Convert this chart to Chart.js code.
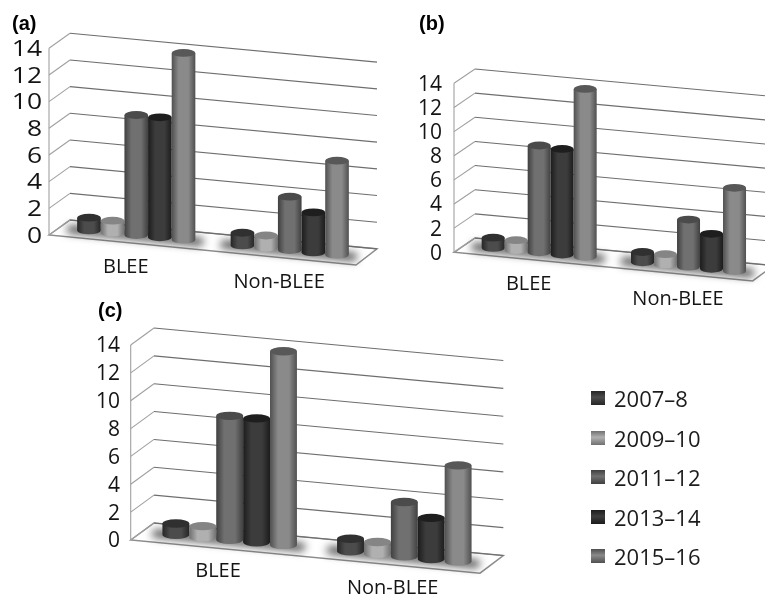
<!DOCTYPE html>
<html>
<head>
<meta charset="utf-8">
<title>BLEE and non-BLEE by period</title>
<script src="https://cdn.jsdelivr.net/npm/chart.js@4"></script>
<style>
    html, body { margin: 0; padding: 0; background: #fff; }
    body { width: 765px; height: 598px; position: relative; overflow: hidden; }
    canvas { position: absolute; left: 0; top: 0; filter: blur(0.4px); }
    .key { position: absolute; left: 591px; height: 30px; font: 22px/30px "Open Sans"; color: #1c1c1c; filter: blur(0.3px); }
    .key i { position: absolute; left: 0; top: 8px; width: 14px; height: 14px; }
    .key span { position: absolute; left: 23px; white-space: nowrap; }
</style>
</head>
<body>
<canvas id="chartA" width="765" height="598"></canvas>
<canvas id="chartB" width="765" height="598"></canvas>
<canvas id="chartC" width="765" height="598"></canvas>

<script>
var categories = ['BLEE', 'Non-BLEE'];
var years = ['2007\u20138', '2009\u201310', '2011\u201312', '2013\u201314', '2015\u201316'];
var yTicks = [0, 2, 4, 6, 8, 10, 12, 14];

// values per period
var bleeA = [0.95, 0.9, 9.0, 9.0, 14.0];
var nonA = [0.95, 0.92, 4.0, 3.0, 7.05];
var bleeB = [0.85, 0.82, 8.85, 8.75, 13.9];
var nonB = [0.85, 0.85, 3.9, 2.9, 6.9];
var bleeC = [0.8, 0.8, 8.9, 8.9, 13.9];
var nonC = [0.9, 0.85, 3.9, 2.95, 6.9];

// edge, centre, cap
var shades = [
    ['#262626', '#4c4c4c', '#303030'],
    ['#707070', '#b0b0b0', '#858585'],
    ['#404040', '#707070', '#4b4b4b'],
    ['#1c1c1c', '#3c3c3c', '#1e1e1e'],
    ['#505050', '#8a8a8a', '#585858']
];

var panels = [
    { canvas: 'chartA', title: '(a)', titleX: 12, titleY: 24, blee: bleeA, non: nonA,
      x0: 49, x1: 356, yTop: 48.3, y0: 235, dx: 21, dy: 15, slope: 0.098, backSlope: 0.094,
      tickRight: 42, tickSize: 22, tickStretch: 1.2, labelOff: 24.5, ry: 3.9 },
    { canvas: 'chartB', title: '(b)', titleX: 419, titleY: 24, blee: bleeB, non: nonB,
      x0: 454, x1: 752.7, yTop: 83.3, y0: 252.3, dx: 21, dy: 14.3, slope: 0.096, backSlope: 0.092,
      tickRight: 442, tickSize: 21, tickStretch: 1, labelOff: 25, ry: 3.9 },
    { canvas: 'chartC', title: '(c)', titleX: 98, titleY: 311, blee: bleeC, non: nonC,
      x0: 130.7, x1: 480, yTop: 345, y0: 540, dx: 23.3, dy: 17, slope: 0.095, backSlope: 0.093,
      tickRight: 120, tickSize: 21, tickStretch: 1, labelOff: 23.5, ry: 4.2 }
];

function drawWalls(ctx, chart, p) {
    var yScale = chart.scales.y;
    var w = p.x1 - p.x0;
    var bx = p.x0 + p.dx;

    // floor
    var fy = p.y0 + p.slope * w;
    ctx.beginPath();
    ctx.moveTo(p.x0, p.y0);
    ctx.lineTo(bx, p.y0 - p.dy);
    ctx.lineTo(bx + w, p.y0 - p.dy + p.backSlope * w);
    ctx.lineTo(p.x1, fy);
    ctx.closePath();
    ctx.fillStyle = '#ffffff';
    ctx.fill();
    ctx.strokeStyle = '#8c8c8c';
    ctx.lineWidth = 1.5;
    ctx.stroke();

    // gridlines on the side and back wall
    yScale.ticks.forEach(function (t) {
        var y = yScale.getPixelForValue(t.value);
        ctx.beginPath();
        ctx.moveTo(p.x0, y);
        ctx.lineTo(bx, y - p.dy);
        ctx.strokeStyle = '#a0a0a0';
        ctx.lineWidth = 1.1;
        ctx.stroke();
        ctx.beginPath();
        ctx.moveTo(bx, y - p.dy);
        ctx.lineTo(bx + w, y - p.dy + p.backSlope * w);
        ctx.strokeStyle = '#6e6e6e';
        ctx.stroke();
    });

    ctx.beginPath();
    ctx.moveTo(p.x0, yScale.getPixelForValue(14));
    ctx.lineTo(p.x0, p.y0);
    ctx.strokeStyle = '#a0a0a0';
    ctx.stroke();
}

function groundY(p, frontX) {
    return p.y0 + p.slope * (frontX - p.x0) - p.dy / 2;
}

function drawShadows(ctx, chart, p) {
    var first = chart.getDatasetMeta(0).data;
    var last = chart.getDatasetMeta(years.length - 1).data;
    ctx.save();
    ctx.filter = 'blur(4px)';
    ctx.fillStyle = 'rgba(50,50,50,0.95)';
    categories.forEach(function (c, i) {
        var l = first[i].x - first[i].width / 2 - 8;
        var r = last[i].x + last[i].width / 2 + 9;
        ctx.beginPath();
        ctx.moveTo(l + p.dx / 2, groundY(p, l) - 3);
        ctx.lineTo(r + p.dx / 2, groundY(p, r) - 3);
        ctx.lineTo(r + p.dx / 2 - 3, groundY(p, r) + 4);
        ctx.lineTo(l + p.dx / 2 - 3, groundY(p, l) + 4);
        ctx.closePath();
        ctx.fill();
    });
    ctx.restore();
}

function drawBar(ctx, el, p, shade) {
    var cx = el.x + p.dx / 2;
    var rx = el.width / 2;
    var base = groundY(p, el.x);
    var top = base - (el.base - el.y);
    var g = ctx.createLinearGradient(cx - rx, 0, cx + rx, 0);
    g.addColorStop(0, shade[0]);
    g.addColorStop(0.3, shade[1]);
    g.addColorStop(0.7, shade[1]);
    g.addColorStop(1, shade[0]);
    ctx.beginPath();
    ctx.moveTo(cx - rx, top);
    ctx.lineTo(cx - rx, base);
    ctx.ellipse(cx, base, rx, p.ry, 0, Math.PI, 0, true);
    ctx.lineTo(cx + rx, top);
    ctx.closePath();
    ctx.fillStyle = g;
    ctx.fill();
    ctx.beginPath();
    ctx.ellipse(cx, top, rx, p.ry, 0, 0, Math.PI * 2);
    ctx.fillStyle = shade[2];
    ctx.fill();
}

function drawText(ctx, chart, p) {
    var yScale = chart.scales.y;
    var xScale = chart.scales.x;

    ctx.fillStyle = '#141414';
    ctx.textBaseline = 'middle';
    ctx.font = p.tickSize + 'px "Open Sans"';
    ctx.textAlign = 'right';
    yScale.ticks.forEach(function (t) {
        ctx.save();
        ctx.translate(p.tickRight, yScale.getPixelForValue(t.value) + 1.5);
        ctx.scale(p.tickStretch, 1);
        ctx.fillText(t.label, 0, 0);
        ctx.restore();
    });

    ctx.font = '20px "Open Sans"';
    ctx.textAlign = 'center';
    categories.forEach(function (c, i) {
        var x = xScale.getPixelForTick(i);
        ctx.fillText(c, x, p.y0 + p.slope * (x - p.x0) + p.labelOff);
    });

    ctx.fillStyle = '#000';
    ctx.textAlign = 'left';
    ctx.font = 'bold 20px "Liberation Sans"';
    ctx.fillText(p.title, p.titleX, p.titleY);
}

var barScene = {
    id: 'barScene',
    beforeDatasetsDraw: function (chart, args, opts) {
        var ctx = chart.ctx;
        var p = opts.panel;
        ctx.save();
        drawWalls(ctx, chart, p);
        drawShadows(ctx, chart, p);
        categories.forEach(function (c, i) {
            years.forEach(function (y, s) {
                drawBar(ctx, chart.getDatasetMeta(s).data[i], p, shades[s]);
            });
        });
        drawText(ctx, chart, p);
        ctx.restore();
        return false;
    }
};

panels.forEach(function (p) {
    new Chart(document.getElementById(p.canvas), {
        type: 'bar',
        plugins: [barScene],
        data: {
            labels: categories,
            datasets: years.map(function (y, s) {
                return {
                    label: y,
                    data: [p.blee[s], p.non[s]],
                    backgroundColor: shades[s][1],
                    categoryPercentage: 0.77,
                    barPercentage: 1
                };
            })
        },
        options: {
            responsive: false,
            animation: false,
            layout: { padding: { left: p.x0, right: 765 - p.x1, top: p.yTop, bottom: 598 - p.y0 } },
            plugins: {
                legend: { display: false },
                tooltip: { enabled: false },
                barScene: { panel: p }
            },
            scales: {
                x: {
                    grid: { display: false, drawTicks: false },
                    border: { display: false },
                    ticks: { display: false },
                    afterFit: function (s) { s.height = 0; }
                },
                y: {
                    min: yTicks[0],
                    max: yTicks[yTicks.length - 1],
                    grid: { display: false, drawTicks: false },
                    border: { display: false },
                    ticks: { display: false, stepSize: yTicks[1] - yTicks[0] },
                    afterFit: function (s) { s.width = 0; }
                }
            }
        }
    });
});

// legend
var keyTops = [383, 423, 462, 502, 541];
years.forEach(function (y, s) {
    var key = document.createElement('div');
    key.className = 'key';
    key.style.top = keyTops[s] + 'px';
    var swatch = document.createElement('i');
    swatch.style.background = 'linear-gradient(' + shades[s][0] + ' 0%, ' + shades[s][1] + ' 45%, ' + shades[s][0] + ' 100%)';
    var text = document.createElement('span');
    text.textContent = y;
    key.appendChild(swatch);
    key.appendChild(text);
    document.body.appendChild(key);
});
</script>
</body>
</html>
